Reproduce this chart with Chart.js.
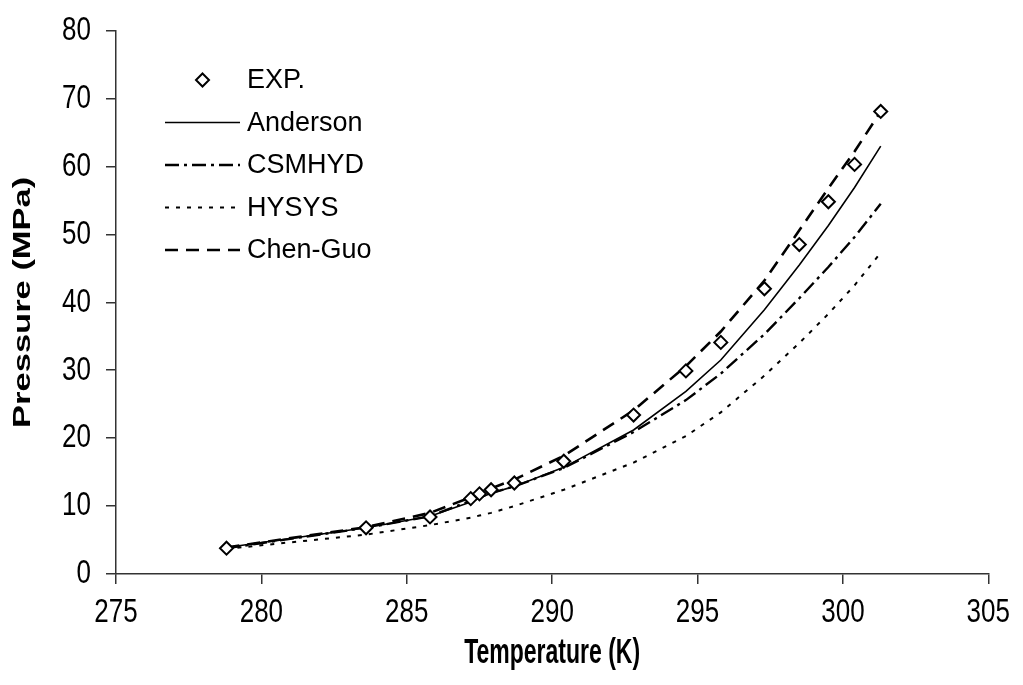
<!DOCTYPE html>
<html>
<head>
<meta charset="utf-8">
<script src="https://cdn.jsdelivr.net/npm/chart.js@4.4.1/dist/chart.umd.min.js"></script>
<style>
  html, body { margin: 0; padding: 0; background: #fff; }
  #wrap { width: 1023px; height: 685px; }
</style>
</head>
<body>
<div id="wrap"><canvas id="chart"></canvas></div>
<script>
// experimental hydrate points
const expT = [278.8, 283.6, 285.8, 287.2, 287.5, 287.9, 288.7, 290.4, 292.8, 294.6, 295.8, 297.3, 298.5, 299.5, 300.4, 301.3];
const expP = [3.8, 6.8, 8.4, 11.1, 11.8, 12.4, 13.4, 16.6, 23.4, 29.9, 34.1, 42.0, 48.5, 54.8, 60.3, 68.1];

// model predictions, same temperatures
const calcT = [278.8, 283.6, 285.8, 287.2, 287.5, 287.9, 288.7, 290.4, 292.8, 294.6, 295.8, 297.3, 298.5, 299.5, 300.4, 301.3];
const anderson = [3.9, 6.8, 8.5, 10.6, 11.2, 11.9, 12.9, 15.7, 21.2, 26.9, 31.5, 38.9, 45.5, 51.3, 56.9, 63.0];
const csmhyd = [3.8, 6.8, 8.5, 10.8, 11.3, 11.9, 12.9, 15.6, 20.9, 25.6, 29.5, 35.3, 40.6, 45.2, 49.6, 54.5];
const hysys = [3.7, 5.8, 7.2, 8.3, 8.6, 9.0, 10.0, 12.4, 16.4, 20.3, 23.8, 29.2, 34.0, 38.3, 42.5, 47.3];
const chenGuo = [3.9, 6.9, 9.0, 11.3, 11.9, 12.6, 13.9, 17.4, 24.1, 30.6, 35.7, 43.2, 50.6, 56.8, 62.2, 68.1];

const xRange = [275, 305];
const yRange = [0, 80];

const FONT = '"Liberation Sans", Arial, sans-serif';

// the axis text in the picture is drawn taller than it is wide
const TICK_STRETCH = 1.3;
const TITLE_STRETCH = 1.5;

const origFillText = CanvasRenderingContext2D.prototype.fillText;
CanvasRenderingContext2D.prototype.fillText = function (text, x, y, maxWidth) {
  const on = this.canvas.textStretch;
  const args = maxWidth === undefined ? [text, x, y] : [text, x, y, maxWidth];
  if (!on) return origFillText.apply(this, args);
  const k = this.font.indexOf('bold') >= 0 ? TITLE_STRETCH : TICK_STRETCH;
  const m = this.getTransform();
  const p = m.transformPoint(new DOMPoint(x, y));
  const s = new DOMMatrix().translate(p.x, p.y).scale(1, k).translate(-p.x, -p.y).multiply(m);
  this.save();
  this.setTransform(s);
  origFillText.apply(this, args);
  this.restore();
};

function pts(xs, ys) {
  return xs.map((x, i) => ({ x: x, y: ys[i] }));
}

// legend drawn inside the plot, top left
const insideLegend = {
  id: 'insideLegend',
  beforeDraw(chart) { chart.canvas.textStretch = true; },
  afterDraw(chart) {
    chart.canvas.textStretch = false;
    const ctx = chart.ctx;
    const x0 = 165, x1 = 240, tx = 247;
    ctx.save();
    ctx.font = '27px ' + FONT;
    ctx.textBaseline = 'middle';
    chart.data.datasets.forEach((ds, i) => {
      const y = 80 + i * 42.5;
      ctx.strokeStyle = '#000';
      if (ds.showLine === false) {
        const r = ds.pointRadius, cx = (x0 + x1) / 2;
        ctx.setLineDash([]);
        ctx.lineWidth = ds.borderWidth;
        ctx.beginPath();
        ctx.moveTo(cx, y - r); ctx.lineTo(cx + r, y); ctx.lineTo(cx, y + r); ctx.lineTo(cx - r, y);
        ctx.closePath();
        ctx.fillStyle = '#fff';
        ctx.fill();
        ctx.stroke();
      } else {
        ctx.setLineDash(ds.borderDash || []);
        ctx.lineWidth = ds.borderWidth;
        ctx.beginPath();
        ctx.moveTo(x0, y); ctx.lineTo(x1, y);
        ctx.stroke();
      }
      ctx.setLineDash([]);
      ctx.fillStyle = '#000';
      ctx.fillText(ds.label, tx, y + 1);
    });
    ctx.restore();
  }
};

new Chart(document.getElementById('chart'), {
  type: 'scatter',
  data: {
    datasets: [
      {
        label: 'EXP.',
        data: pts(expT, expP),
        showLine: false,
        pointStyle: 'rectRot',
        pointRadius: 6.5,
        pointBackgroundColor: '#fff',
        pointBorderColor: '#000',
        borderColor: '#000',
        borderWidth: 2,
        pointBorderWidth: 2
      },
      {
        label: 'Anderson',
        data: pts(calcT, anderson),
        showLine: true,
        borderColor: '#000',
        borderWidth: 1.6,
        pointRadius: 0
      },
      {
        label: 'CSMHYD',
        data: pts(calcT, csmhyd),
        showLine: true,
        borderColor: '#000',
        borderWidth: 2.4,
        borderDash: [14, 5, 3, 5],
        pointRadius: 0
      },
      {
        label: 'HYSYS',
        data: pts(calcT, hysys),
        showLine: true,
        borderColor: '#000',
        borderWidth: 2,
        borderDash: [4, 7],
        pointRadius: 0
      },
      {
        label: 'Chen-Guo',
        data: pts(calcT, chenGuo),
        showLine: true,
        borderColor: '#000',
        borderWidth: 2.6,
        borderDash: [13, 8],
        pointRadius: 0
      }
    ]
  },
  options: {
    responsive: true,
    maintainAspectRatio: false,
    animation: false,
    layout: { padding: { left: 0, right: 29, top: 23, bottom: 0 } },
    plugins: {
      legend: { display: false },
      tooltip: { enabled: false }
    },
    scales: {
      x: {
        type: 'linear',
        min: xRange[0],
        max: xRange[1],
        afterFit(scale) { scale.height = 111; },
        ticks: { stepSize: 5, color: '#000', padding: 13, font: { family: FONT, size: 26 } },
        grid: { drawOnChartArea: false, drawTicks: true, tickLength: 10, color: '#333', lineWidth: 1.5 },
        border: { color: '#333', width: 1.5 },
        title: {
          display: true,
          text: 'Temperature (K)',
          color: '#000',
          font: { family: FONT, size: 23, weight: 'bold' },
          padding: { top: 0, bottom: 18 }
        }
      },
      y: {
        min: yRange[0],
        max: yRange[1],
        afterFit(scale) { scale.width = 116; },
        ticks: { stepSize: 10, color: '#000', padding: 15, font: { family: FONT, size: 26 } },
        grid: { drawOnChartArea: false, drawTicks: true, tickLength: 10, color: '#333', lineWidth: 1.5 },
        border: { color: '#333', width: 1.5 },
        title: {
          display: true,
          text: 'Pressure (MPa)',
          color: '#000',
          font: { family: FONT, size: 23, weight: 'bold' },
          padding: { top: 10, bottom: 0 }
        }
      }
    }
  },
  plugins: [insideLegend]
});
</script>
</body>
</html>
